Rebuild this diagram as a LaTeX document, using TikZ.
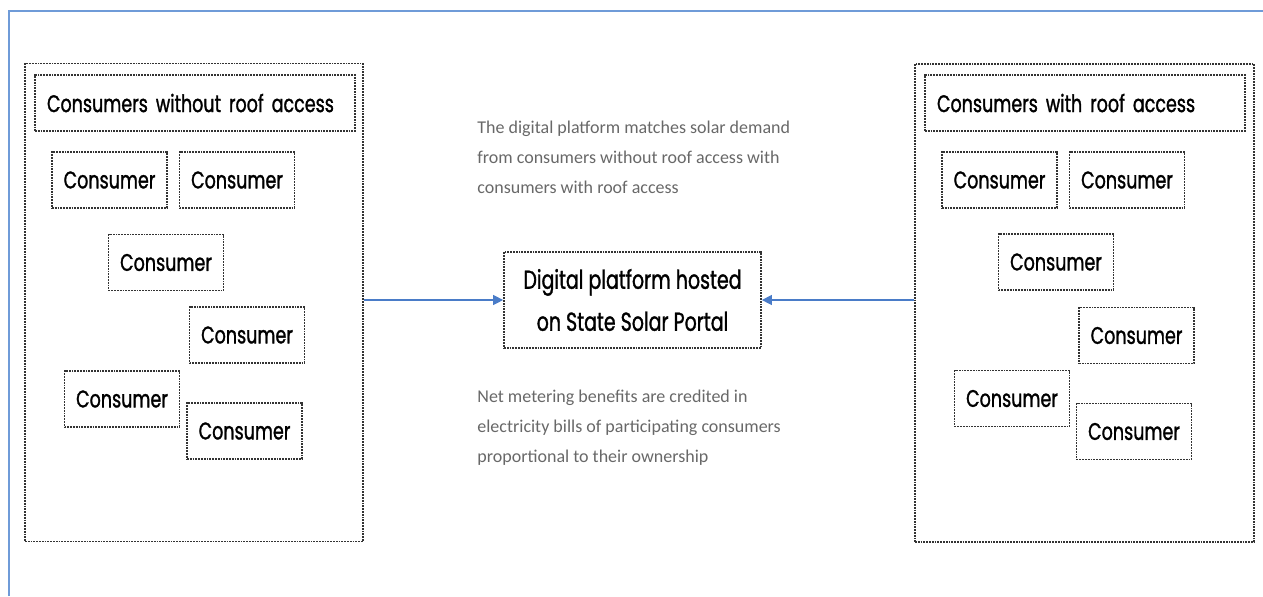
\documentclass[tikz,border=0pt]{standalone}
\usepackage{fontspec}
\usetikzlibrary{arrows.meta}
\newfontfamily\boxfont{Poppins}[FakeStretch=0.73, FakeBold=1.2]
\newfontfamily\greyfont{Carlito}
\definecolor{frameblue}{HTML}{6F9BD8}
\definecolor{arrowblue}{HTML}{4A7CC8}
\definecolor{notegrey}{HTML}{686868}
\tikzset{
  dotbox/.style={draw=black!80, line width=0.85pt, dash pattern=on 0.9pt off 0.5pt, rectangle, inner sep=0pt},
  consumerbox/.style={dotbox, minimum width=57.5pt, minimum height=28pt, font=\boxfont\fontsize{12}{14}\selectfont},
  titlebox/.style={dotbox, minimum height=28pt, text width=148pt, inner xsep=6pt, align=left, font=\boxfont\fontsize{12}{14}\selectfont},
  panel/.style={dotbox},
  platformbox/.style={dotbox, minimum width=128.5pt, minimum height=48pt, align=center, font=\boxfont\fontsize{13}{21}\selectfont},
  note/.style={inner sep=0pt, align=left, text=notegrey, font=\greyfont\fontsize{9}{15}\selectfont},
  flow/.style={draw=arrowblue, line width=0.6pt, -{Triangle[length=5pt,width=5pt]}},
}
\begin{document}
\begin{tikzpicture}[x=0.5pt,y=-0.5pt]
\useasboundingbox (0,0) rectangle (1263,596);
% outer frame
\draw[frameblue, line width=1pt] (9,596) -- (9,10.5) -- (1263,10.5);

% panels
\node[panel, minimum width=169pt, minimum height=239pt] (leftpanel) at (194,302.5) {};
\node[panel, minimum width=169.5pt, minimum height=239pt] (rightpanel) at (1084.5,303) {};

\node[titlebox] (lefttitle) at (195,103) {\mbox{Consumers without roof access}};
\node[titlebox] (righttitle) at (1085,103) {\mbox{Consumers with roof access}};

% left consumers
\node[consumerbox] (l1) at (109.5,180) {Consumer};
\node[consumerbox] (l2) at (237,180) {Consumer};
\node[consumerbox] (l3) at (166,262.5) {Consumer};
\node[consumerbox] (l4) at (247,335) {Consumer};
\node[consumerbox] (l5) at (122,399) {Consumer};
\node[consumerbox] (l6) at (244.5,431) {Consumer};

% right consumers
\node[consumerbox] (r1) at (999.5,180) {Consumer};
\node[consumerbox] (r2) at (1127,180) {Consumer};
\node[consumerbox] (r3) at (1056,262) {Consumer};
\node[consumerbox] (r4) at (1136.5,335.5) {Consumer};
\node[consumerbox] (r5) at (1012,398.5) {Consumer};
\node[consumerbox] (r6) at (1134,431.5) {Consumer};

% platform
\node[platformbox] (platform) at (632.5,300) {Digital platform hosted\\on State Solar Portal};

% notes
\node[note, anchor=north west] (note1) at (477,121) {The digital platform matches solar demand\\from consumers without roof access with\\consumers with roof access};
\node[note, anchor=north west] (note2) at (477,390) {Net metering benefits are credited in\\electricity bills of participating consumers\\proportional to their ownership};

% arrows
\draw[flow] (leftpanel.east |- platform.west) -- (platform.west);
\draw[flow] (rightpanel.west |- platform.east) -- (platform.east);
\end{tikzpicture}
\end{document}
